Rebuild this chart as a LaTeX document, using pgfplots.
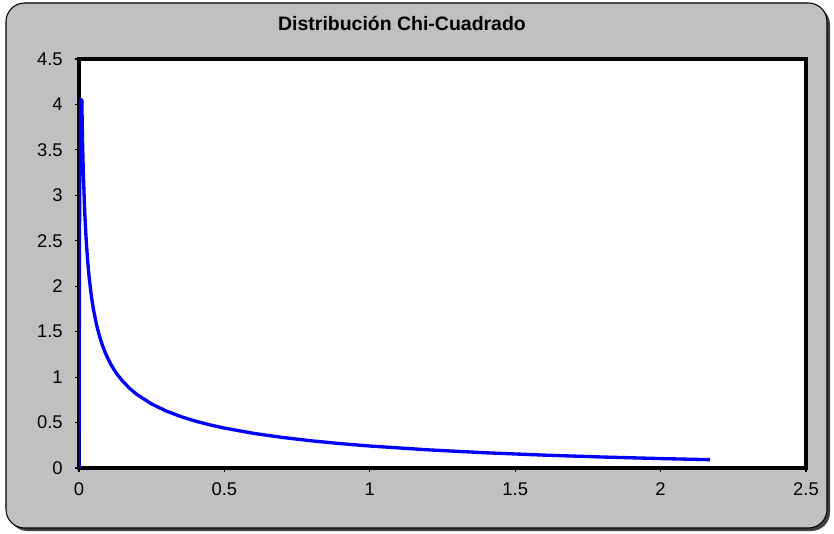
\documentclass[border=0pt]{standalone}
\usepackage{pgfplots}
\pgfplotsset{compat=1.18}
\usepackage{fontspec}
\setmainfont{Liberation Sans}
\definecolor{chartbg}{RGB}{192,192,192}
\begin{document}
\begin{tikzpicture}[x=0.75pt,y=0.75pt]
% bounding box: px (0..834, 0..533), origin at px (79,468)
\path[use as bounding box] (-79,-65) rectangle (755,468);
\fill[black!75,rounded corners=14pt] (-70,-63) rectangle (751,462);
\filldraw[fill=chartbg,draw=black,line width=0.8pt,rounded corners=14pt] (-73,-60) rectangle (748,465);
\node[font=\bfseries\fontsize{14.6}{16}\selectfont] at (323,445) {Distribución Chi-Cuadrado};
\begin{axis}[
  at={(0,0)}, anchor=origin,
  scale only axis,
  width=545.25pt, height=306.75pt,
  xmin=0, xmax=2.5, ymin=0, ymax=4.5,
  xtick={0,0.5,...,2.5}, ytick={0,0.5,...,4.5},
  xticklabels={0,0.5,1,1.5,2,2.5},
  yticklabels={0,0.5,1,1.5,2,2.5,3,3.5,4,4.5},
  axis background/.style={fill=white},
  axis line style={line width=2.3pt},
  tick pos=left,
  tick align=outside,
  major tick length=3pt,
  tick style={black, line width=0.8pt},
  tick label style={font=\fontsize{13.8}{16}\selectfont, inner sep=0pt},
  yticklabel shift=9pt,
  xticklabel shift=8pt,
  clip=true,
]
\addplot[blue, line width=2.5pt, line join=round] coordinates {
(0,0) (0.003,4.05) (0.0097,4.05) (0.012,3.620) (0.015,3.233) (0.02,2.793) (0.025,2.492)
(0.03,2.269) (0.035,2.0955) (0.04,1.955) (0.045,1.8388) (0.05,1.740)
(0.06,1.581) (0.07,1.456) (0.08,1.355) (0.09,1.2713) (0.1,1.200) (0.11,1.1385)
(0.12,1.085) (0.13,1.0368) (0.15,0.956) (0.175,0.8738)
(0.2,0.807) (0.25,0.704) (0.3,0.627) (0.35,0.5661) (0.4,0.516) (0.45,0.4749) (0.5,0.439) (0.6,0.3815)
(0.7,0.336) (0.8,0.299) (0.9,0.268) (1.0,0.242) (1.2,0.200) (1.4,0.1674)
(1.6,0.1417) (1.8,0.1209) (2.0,0.1038) (2.17,0.0915)
};
\end{axis}
\end{tikzpicture}
\end{document}
